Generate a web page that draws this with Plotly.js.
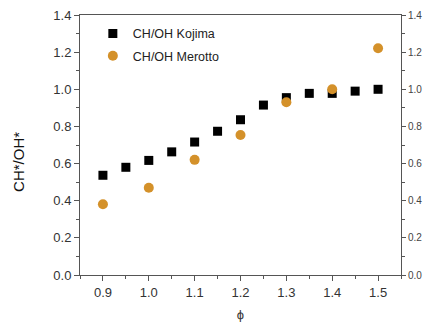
<!DOCTYPE html>
<html><head><meta charset="utf-8">
<script src="https://cdn.plot.ly/plotly-3.0.1.min.js"></script>
<style>html,body{margin:0;padding:0;background:#fff}#c{width:423px;height:322px}</style>
</head><body><div id="c"></div>
<script>
const kojimaPhi = [0.9,0.95,1.0,1.05,1.1,1.15,1.2,1.25,1.3,1.35,1.4,1.45,1.5];
const kojimaVal = [0.537,0.58,0.617,0.663,0.716,0.774,0.836,0.915,0.955,0.978,0.978,0.99,1.0];
const merottoPhi = [0.9,1.0,1.1,1.2,1.3,1.4,1.5];
const merottoVal = [0.381,0.47,0.62,0.754,0.93,1.0,1.221];
const seriesNames = ['CH/OH Kojima','CH/OH Merotto'];
const yTitle = 'CH*/OH*';
const xTitle = 'ϕ';

const font = {family:'Liberation Sans, Arial, sans-serif', color:'#333'};
const data = [
  {x:kojimaPhi, y:kojimaVal, name:seriesNames[0], legendgroup:'a', type:'scatter', mode:'markers',
   marker:{symbol:'square', size:9, color:'#000'}},
  {x:merottoPhi, y:merottoVal, name:seriesNames[1], legendgroup:'b', type:'scatter', mode:'markers',
   marker:{symbol:'circle', size:10, color:'#D4912A'}},
  {x:[], y:[], yaxis:'y2', showlegend:false, hoverinfo:'skip'}
];
const layout = {
  width:423, height:322,
  margin:{l:80, r:22, t:15, b:47},
  paper_bgcolor:'#fff', plot_bgcolor:'#fff',
  font:font,
  showlegend:true,
  legend:{x:0.04, y:0.985, xanchor:'left', yanchor:'top', bgcolor:'rgba(0,0,0,0)',
          font:{family:font.family, size:12.5, color:'#222'}, tracegroupgap:3, itemwidth:30},
  annotations:[{text:yTitle, xref:'paper', yref:'paper', x:-0.19, y:0.435, xanchor:'center', yanchor:'middle',
                textangle:-90, showarrow:false, font:{size:15, color:'#111'}}],
  xaxis:{range:[0.85,1.55], dtick:0.1, tick0:0.9, tickformat:'.1f', showgrid:false, zeroline:false,
         showline:true, linecolor:'#555', linewidth:1, mirror:true,
         ticks:'outside', ticklen:5, tickcolor:'#555',
         minor:{dtick:0.05, tick0:0.9, ticks:'outside', ticklen:3, tickcolor:'#555', showgrid:false},
         tickfont:{size:13, color:'#333'},
         title:{text:xTitle, font:{size:13, color:'#333'}, standoff:12}},
  yaxis:{range:[0,1.4], dtick:0.2, tickformat:'.1f', showgrid:false, zeroline:false,
         showline:true, linecolor:'#555', linewidth:1,
         ticks:'outside', ticklen:5, tickcolor:'#555',
         minor:{dtick:0.1, ticks:'outside', ticklen:3, tickcolor:'#555', showgrid:false},
         tickfont:{size:13, color:'#333'}},
  yaxis2:{range:[0,1.4], dtick:0.2, tickformat:'.1f', overlaying:'y', side:'right', showgrid:false, zeroline:false,
         showline:true, linecolor:'#555', linewidth:1,
         ticks:'outside', ticklen:4, tickcolor:'#555',
         minor:{dtick:0.1, ticks:'outside', ticklen:3, tickcolor:'#555', showgrid:false},
         tickfont:{size:10, color:'#444'}}
};
Plotly.newPlot('c', data, layout, {staticPlot:true, displayModeBar:false});
</script></body></html>
